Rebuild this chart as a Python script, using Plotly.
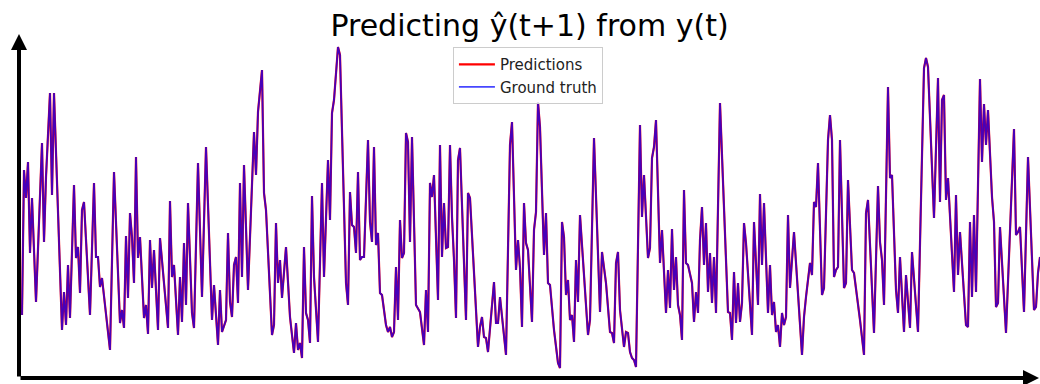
import plotly.graph_objects as go

# time steps and values
t = [0,1,2,3,4,5,7,10,11,12,14,15,16,20,21,22,23,24,26,27,28,29,30,31,34,36,37,38,39,40,
     44,46,49,50,51,52,53,54,55,56,57,58,59,61,62,63,64,65,66,68,69,73,74,75,76,78,79,80,81,82,
     83,85,86,88,90,92,95,96,98,99,100,102,103,104,105,106,107,108,109,110,111,113,116,117,118,120,121,122,125,126,
     127,128,129,130,132,134,136,137,138,139,140,141,142,143,144,145,146,148,150,151,153,154,155,156,158,159,162,163,164,165,
     166,167,168,169,170,171,173,174,175,176,177,178,179,180,182,183,184,185,186,187,188,189,190,191,192,193,194,195,197,199,
     201,202,203,204,205,206,208,209,210,211,212,213,214,215,216,217,218,219,222,223,224,228,229,230,231,232,233,236,237,238,
     239,242,244,245,247,248,249,250,251,252,253,255,256,257,258,259,261,262,263,264,266,268,269,270,271,272,273,274,275,276,
     277,278,279,283,284,286,289,290,292,294,295,296,297,298,299,301,302,303,304,305,306,307,309,310,311,313,314,315,316,317,
     319,320,322,323,324,325,326,327,328,329,330,331,332,333,335,336,337,338,339,340,341,342,343,344,345,346,347,349,353,354,
     355,356,357,358,359,360,361,362,365,366,367,368,369,370,371,373,374,375,376,377,378,379,380,381,382,383,384,386,390,391,
     392,394,395,396,397,398,400,401,403,404,405,406,407,408,409,411,412,413,415,416,419,421,422,423,426,428,429,430,431,433,
     434,435,437,438,439,441,442,444,445,448,451,452,453,454,456,458,459,460,461,462,463,466,467,468,469,472,473,474,475,476,
     477,479,480,481,482,483,485,486,487,488,489,492,496,497,498,499,501,503,506,507,508,509]

ground_truth = [6.5,21.0,18.2,21.8,12.7,18.2,7.8,23.7,13.8,20.3,28.7,18.5,28.7,5.0,8.8,5.5,11.5,6.2,19.5,12.2,13.3,8.7,17.0,17.8,6.5,19.7,12.3,12.3,9.3,10.2,
     3.0,20.8,5.7,7.0,5.2,14.4,8.2,16.7,14.3,9.7,22.3,12.2,14.3,6.2,7.5,4.6,14.0,9.2,13.0,5.0,14.2,5.2,17.9,10.3,11.5,4.5,10.3,5.8,13.7,7.5,
     17.7,6.7,5.2,21.7,8.3,23.3,6.0,9.5,3.5,9.0,4.8,6.0,14.7,7.8,6.3,11.5,12.3,7.7,19.7,10.3,21.5,9.0,24.8,20.5,26.8,31.0,18.7,17.0,4.5,5.5,
     15.7,9.7,12.0,8.2,13.3,6.3,2.7,5.7,3.0,3.7,2.2,13.3,6.7,6.0,3.7,18.4,10.3,3.8,19.7,10.3,22.0,16.0,26.7,28.0,33.3,32.5,9.7,7.5,18.8,15.5,
     15.3,12.7,20.8,12.0,12.3,12.3,24.0,15.8,13.8,23.3,13.5,14.7,8.7,8.5,5.5,4.8,5.3,4.3,4.8,11.3,6.0,16.0,12.2,12.7,24.7,23.8,13.8,24.3,7.5,6.8,
     3.5,9.0,4.8,19.7,18.3,20.5,8.0,23.5,12.3,17.7,13.2,13.3,23.5,16.3,12.0,6.2,22.0,23.2,6.0,18.7,18.2,3.3,5.3,6.3,4.3,4.2,2.8,9.8,5.7,5.7,
     8.3,2.5,23.5,25.8,11.0,14.0,11.2,5.3,17.7,13.7,13.0,5.8,15.0,16.8,27.8,25.3,12.5,16.7,9.7,9.5,5.0,1.7,1.2,15.8,14.3,8.5,10.0,6.0,6.5,3.8,
     12.0,7.8,16.5,4.5,6.0,24.2,6.8,12.8,9.7,4.8,4.7,3.7,11.7,12.8,7.0,3.3,4.8,4.7,2.8,2.2,2.0,1.3,25.5,16.3,20.5,12.2,13.2,22.2,23.3,26.0,
     11.7,15.0,6.7,11.0,7.2,15.1,9.0,12.3,7.5,6.5,4.0,19.0,11.7,11.5,9.7,5.8,8.8,6.7,14.0,17.3,11.5,15.7,8.8,12.7,7.7,12.3,6.7,27.7,6.8,6.7,
     4.0,10.8,5.7,9.7,5.8,7.7,15.7,13.7,4.5,15.8,11.7,7.5,18.6,11.5,17.7,6.7,11.5,6.5,7.8,4.8,5.5,3.3,6.7,5.5,6.3,16.5,9.2,14.8,2.5,6.3,
     8.3,11.7,10.5,17.8,17.3,21.7,8.5,9.2,24.0,26.5,24.0,10.3,11.0,11.3,24.0,9.2,9.7,20.0,11.0,10.7,6.0,2.5,16.7,18.0,4.7,19.4,13.8,12.0,7.5,29.3,
     20.2,20.5,9.0,6.7,12.3,4.8,10.5,5.2,12.8,4.8,31.2,32.2,31.3,26.7,16.2,30.2,17.8,28.0,28.5,18.0,20.2,8.8,18.5,10.5,14.8,5.5,5.3,15.8,8.3,16.5,
     8.8,30.1,21.8,27.6,23.5,27.0,18.3,15.8,7.3,7.7,15.3,4.7,25.1,14.5,14.8,15.3,6.8,22.3,7.0,7.3,10.7,12.3]

predictions = list(ground_truth)

fig = go.Figure()
fig.add_trace(go.Scatter(x=t, y=predictions, mode="lines", name="Predictions",
                         line=dict(color="red", width=2.2)))
fig.add_trace(go.Scatter(x=t, y=ground_truth, mode="lines", name="Ground truth",
                         line=dict(color="rgba(0,0,255,0.72)", width=1.8)))

arrow = dict(showarrow=True, arrowhead=2, arrowsize=0.8, arrowwidth=4, arrowcolor="black",
             text="", xref="x domain", yref="y domain", axref="x domain", ayref="y domain")
fig.update_layout(
    width=1040, height=384,
    margin=dict(l=19, r=0, t=34, b=6),
    paper_bgcolor="white", plot_bgcolor="white",
    font=dict(family="DejaVu Sans", color="black"),
    title=dict(text="Predicting ŷ(t+1) from y(t)", x=0.5, xref="paper", xanchor="center",
               y=0.933, yref="container", yanchor="middle",
               font=dict(size=30, family="DejaVu Sans", color="black")),
    xaxis=dict(range=[-1.5, 509], showgrid=False, zeroline=False, showticklabels=False,
               showline=False, ticks=""),
    yaxis=dict(range=[0.2, 34.6], showgrid=False, zeroline=False, showticklabels=False,
               showline=False, ticks=""),
    legend=dict(x=0.425, y=0.962, xanchor="left", yanchor="top", itemwidth=36,
                bgcolor="rgba(255,255,255,0.85)", bordercolor="#cccccc", borderwidth=1,
                font=dict(size=15, family="DejaVu Sans", color="#222222")),
    annotations=[
        dict(x=0, y=1.0, ax=0, ay=0, **arrow),
        dict(x=0.999, y=0, ax=0, ay=0, **arrow),
    ],
)
fig.write_html("out.html")
